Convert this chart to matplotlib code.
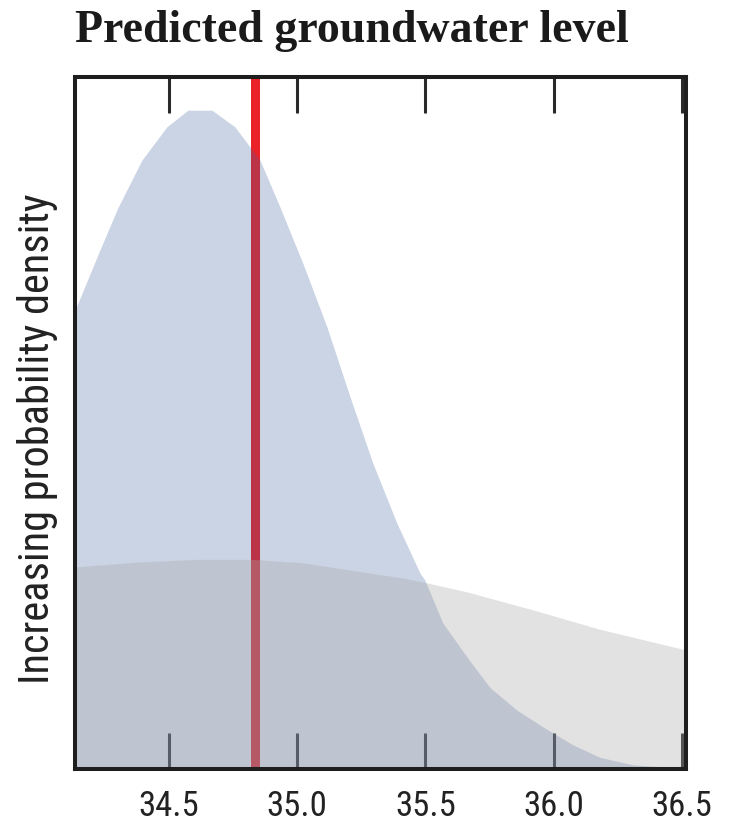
import matplotlib.pyplot as plt
from matplotlib import font_manager
import numpy as np

# predicted level (m) and relative probability density
level_x = [34.134, 34.231, 34.301, 34.395, 34.492, 34.574, 34.668, 34.757,
           34.855, 34.933, 35.022, 35.116, 35.206, 35.295, 35.389, 35.479,
           35.498, 35.568, 35.662, 35.751, 35.857, 35.958, 36.075, 36.180,
           36.309, 36.516]
posterior = [0.663, 0.750, 0.811, 0.880, 0.928, 0.952, 0.952, 0.928,
             0.880, 0.812, 0.731, 0.639, 0.538, 0.442, 0.355, 0.283,
             0.273, 0.211, 0.162, 0.118, 0.085, 0.061, 0.035, 0.017,
             0.006, 0.001]

prior_x = [34.134, 34.375, 34.609, 34.824, 35.022, 35.412, 35.506, 35.662,
           35.919, 36.180, 36.516]
prior = [0.292, 0.299, 0.303, 0.303, 0.298, 0.276, 0.269, 0.256,
         0.230, 0.202, 0.172]

observed = 34.836
xticks = [34.5, 35.0, 35.5, 36.0, 36.5]
xlim = (34.134, 36.516)


def pick_font(names):
    for name in names:
        try:
            font_manager.findfont(font_manager.FontProperties(family=name),
                                  fallback_to_default=False)
            return name
        except ValueError:
            pass
    return 'DejaVu Sans'


narrow = pick_font(['Roboto Condensed', 'Liberation Sans Narrow',
                    'Open Sans Condensed', 'Roboto', 'Liberation Sans'])

fig = plt.figure(figsize=(7.33, 8.31), dpi=100)
ax = fig.add_axes([75 / 733, 1 - 769 / 831, 611 / 733, 692 / 831])

ax.axvline(observed, color='#ea2128', lw=6.5, zorder=2)
ax.fill_between(level_x, posterior, color='#40609e', alpha=0.27, lw=0, zorder=3)
ax.fill_between(prior_x, prior, color='#a9a9a9', alpha=0.33, lw=0, zorder=3.1)

ax.set_xlim(*xlim)
ax.set_ylim(0, 1)
ax.set_xticks(xticks)
ax.set_xticklabels([f'{t:.1f}' for t in xticks], family=narrow,
                   fontsize=25, color='#222222')
ax.set_yticks([])
ax.tick_params(axis='x', direction='in', top=True, length=26, width=2.2,
               color='#2a2a2a', pad=15)
for s in ax.spines.values():
    s.set_linewidth(2.9)
    s.set_color('#1e1e1e')
    s.set_zorder(5)

fig.text(75 / 733, 1 - 42 / 831, 'Predicted groundwater level',
         family='Liberation Serif', weight='bold', fontsize=33,
         color='#1a1a1a', ha='left', va='baseline')
fig.text(58 / 733, 1 - 439 / 831, 'Increasing probability density',
         family=narrow, fontsize=30.5, color='#222222',
         rotation=90, ha='right', va='center')

fig.savefig('out.png', dpi=100)
